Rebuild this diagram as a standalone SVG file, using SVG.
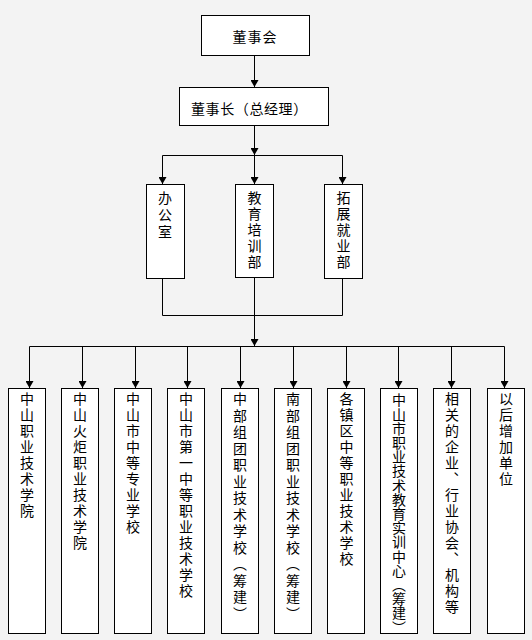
<svg xmlns="http://www.w3.org/2000/svg" width="532" height="640" viewBox="0 0 532 640">
<defs>
<style>
.bg{fill:#f3f3f3}
.box{fill:#ffffff;stroke:#000000;stroke-width:1}
.ln{fill:none;stroke:#000000;stroke-width:1}
.t{font-family:"Noto Sans CJK SC","Liberation Sans",sans-serif;font-size:14px;fill:#000000}
.v{writing-mode:vertical-rl;letter-spacing:2px}
</style>
<marker id="arr" markerUnits="userSpaceOnUse" markerWidth="10" markerHeight="8" viewBox="0 0 10 8" refX="5" refY="7" orient="auto-start-reverse">
<path d="M1,0 L9,0 L5,7 Z" fill="#000000" transform="rotate(0)"/>
</marker>
<marker id="arrd" markerUnits="userSpaceOnUse" markerWidth="8" markerHeight="8" viewBox="0 0 8 8" refX="7" refY="4" orient="auto">
<path d="M0,0 L7,4 L0,8 Z" fill="#000000"/>
</marker>
</defs>
<rect class="bg" x="0" y="0" width="532" height="640"/>
<g id="connectors">
<line class="ln" x1="254.5" y1="55" x2="254.5" y2="87" marker-end="url(#arrd)"/>
<line class="ln" x1="254.5" y1="125" x2="254.5" y2="155" marker-end="url(#arrd)"/>
<line class="ln" x1="162.5" y1="155.5" x2="342.5" y2="155.5"/>
<line class="ln" x1="162.5" y1="155.5" x2="162.5" y2="184" marker-end="url(#arrd)"/>
<line class="ln" x1="254.5" y1="155.5" x2="254.5" y2="184" marker-end="url(#arrd)"/>
<line class="ln" x1="342.5" y1="155.5" x2="342.5" y2="184" marker-end="url(#arrd)"/>
<polyline class="ln" points="162.5,278 162.5,315.5 342.5,315.5 342.5,278"/>
<line class="ln" x1="254.5" y1="277" x2="254.5" y2="346" marker-end="url(#arrd)"/>
<line class="ln" x1="29.5" y1="346.5" x2="504.5" y2="346.5"/>
<line class="ln" x1="29.5" y1="346.5" x2="29.5" y2="388" marker-end="url(#arrd)"/>
<line class="ln" x1="82.5" y1="346.5" x2="82.5" y2="388" marker-end="url(#arrd)"/>
<line class="ln" x1="135.5" y1="346.5" x2="135.5" y2="388" marker-end="url(#arrd)"/>
<line class="ln" x1="187.5" y1="346.5" x2="187.5" y2="388" marker-end="url(#arrd)"/>
<line class="ln" x1="240.5" y1="346.5" x2="240.5" y2="388" marker-end="url(#arrd)"/>
<line class="ln" x1="293.5" y1="346.5" x2="293.5" y2="388" marker-end="url(#arrd)"/>
<line class="ln" x1="346.5" y1="346.5" x2="346.5" y2="388" marker-end="url(#arrd)"/>
<line class="ln" x1="398.5" y1="346.5" x2="398.5" y2="388" marker-end="url(#arrd)"/>
<line class="ln" x1="451.5" y1="346.5" x2="451.5" y2="388" marker-end="url(#arrd)"/>
<line class="ln" x1="504.5" y1="346.5" x2="504.5" y2="388" marker-end="url(#arrd)"/>
</g>
<g id="board">
<rect class="box" x="201.5" y="15.5" width="108" height="40"/>
<text class="t" x="255" y="42" text-anchor="middle" letter-spacing="1">董事会</text>
</g>
<g id="chairman">
<rect class="box" x="179.5" y="87.5" width="149" height="38"/>
<text class="t" x="191" y="114" letter-spacing="0.6">董事长（总经理）</text>
</g>
<g id="office">
<rect class="box" x="146.5" y="184.5" width="38" height="94"/>
<text class="t v" x="165" y="191" style="letter-spacing:2.6px">办公室</text>
</g>
<g id="training">
<rect class="box" x="235.5" y="184.5" width="38" height="93"/>
<text class="t v" x="254.5" y="191" style="letter-spacing:1.8px">教育培训部</text>
</g>
<g id="employment">
<rect class="box" x="324.5" y="184.5" width="38" height="94"/>
<text class="t v" x="343.5" y="191" style="letter-spacing:1.8px">拓展就业部</text>
</g>
<g id="u1">
<rect class="box" x="8.5" y="388.5" width="37" height="245"/>
<text class="t v" x="27" y="392">中山职业技术学院</text>
</g>
<g id="u2">
<rect class="box" x="61.5" y="388.5" width="37" height="245"/>
<text class="t v" x="80" y="392">中山火炬职业技术学院</text>
</g>
<g id="u3">
<rect class="box" x="114.5" y="388.5" width="37" height="245"/>
<text class="t v" x="133" y="392">中山市中等专业学校</text>
</g>
<g id="u4">
<rect class="box" x="167.5" y="388.5" width="37" height="245"/>
<text class="t v" x="186" y="392">中山市第一中等职业技术学校</text>
</g>
<g id="u5">
<rect class="box" x="221.5" y="388.5" width="37" height="245"/>
<text class="t v" x="240" y="392" style="letter-spacing:2.5px">中部组团职业技术学校（筹建）</text>
</g>
<g id="u6">
<rect class="box" x="274.5" y="388.5" width="37" height="245"/>
<text class="t v" x="293" y="392" style="letter-spacing:2.5px">南部组团职业技术学校（筹建）</text>
</g>
<g id="u7">
<rect class="box" x="327.5" y="388.5" width="37" height="245"/>
<text class="t v" x="346.5" y="392">各镇区中等职业技术学校</text>
</g>
<g id="u8">
<rect class="box" x="380.5" y="388.5" width="37" height="245"/>
<text class="t v" x="399" y="393" style="letter-spacing:0.2px">中山市职业技术教育实训中心（筹建）</text>
</g>
<g id="u9">
<rect class="box" x="433.5" y="388.5" width="37" height="245"/>
<text class="t v" x="452" y="392">相关的企业、行业协会、机构等</text>
</g>
<g id="u10">
<rect class="box" x="487.5" y="388.5" width="37" height="245"/>
<text class="t v" x="506" y="392">以后增加单位</text>
</g>
</svg>
